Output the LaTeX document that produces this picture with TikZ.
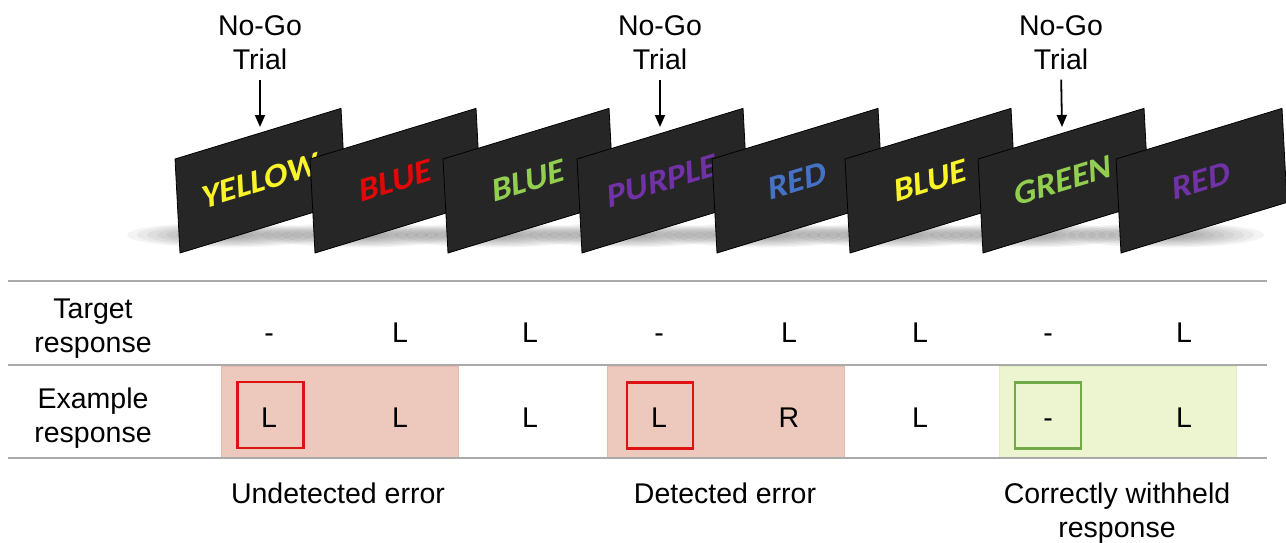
\documentclass[tikz,border=0pt]{standalone}
\usepackage{fontspec}
\setmainfont{Liberation Sans}
\newfontfamily\cardfont{Carlito}
\usetikzlibrary{arrows.meta}
\definecolor{cardbg}{RGB}{38,38,38}
\definecolor{cyel}{RGB}{248,244,40}
\definecolor{cred}{RGB}{226,8,8}
\definecolor{cgrn}{RGB}{146,206,80}
\definecolor{cpur}{RGB}{112,50,166}
\definecolor{cblu}{RGB}{70,114,198}
\definecolor{rulegray}{RGB}{170,170,170}
\definecolor{pinkfill}{RGB}{236,200,189}
\definecolor{pinkedge}{RGB}{228,186,174}
\definecolor{greenfill}{RGB}{236,245,208}
\definecolor{greenedge}{RGB}{226,238,196}
\definecolor{sqred}{RGB}{222,18,18}
\definecolor{sqgreen}{RGB}{112,170,72}
\begin{document}
\begin{tikzpicture}[x=1pt,y=1pt,
  txt/.style={font=\fontsize{28.5}{34}\selectfont, inner sep=0pt, align=center},
  cell/.style={txt, anchor=base},
  word/.style={font=\cardfont\bfseries\fontsize{34}{40}\selectfont, inner sep=0pt, transform shape},
  card/.style={fill=cardbg, draw=black, line width=0.8pt},
  arr/.style={line width=1.8pt, -{Triangle[length=12pt,width=10pt]}, shorten <=10pt},
  rule/.style={draw=rulegray, line width=2.7pt},
  errbox/.style={fill=pinkfill, draw=pinkedge, line width=0.8pt},
  okbox/.style={fill=greenfill, draw=greenedge, line width=0.8pt},
  redsq/.style={draw=sqred, line width=2.2pt, minimum width=66pt, minimum height=66pt, inner sep=0pt},
  grnsq/.style={draw=sqgreen, line width=2.2pt, minimum width=66pt, minimum height=66pt, inner sep=0pt}]
\useasboundingbox (0,0) rectangle (1286,-543);
\fill[white] (0,0) rectangle (1286,-543);

% shadows
\foreach \x in {175,310,443,577,712,845,978,1116}{
  \foreach \k in {1,...,10}{
    \fill[black, opacity=0.045] (\x+50,-235) ellipse [x radius=9.8pt*\k, y radius=1.25pt*\k];
  }
}

% cards
\foreach \x/\w/\c [count=\i] in {175/YELLOW/cyel, 310/BLUE/cred, 443/BLUE/cgrn, 577/PURPLE/cpur, 712/RED/cblu, 845/BLUE/cyel, 978/GREEN/cgrn, 1116/RED/cpur}{
  \begin{scope}[shift={(\x+5,-253)}, cm={1,0.305,-0.053,1,(0,0)}]
    \path[card] (0,0) rectangle (166,94);
    \node[word, text=\c] (w\i) at (83,47) {\w};
  \end{scope}
}

% No-Go labels and arrows
\node[txt, anchor=north] (ng1) at (260,-15) {No-Go\\Trial};
\node[txt, anchor=north] (ng2) at (660,-15) {No-Go\\Trial};
\node[txt, anchor=north] (ng3) at (1061,-15) {No-Go\\Trial};
\coordinate (t1) at (260,-127);
\coordinate (t2) at (660,-127);
\coordinate (t3) at (1062,-127);
\draw[arr] (ng1.south) -- (t1);
\draw[arr] (ng2.south) -- (t2);
\draw[arr] (ng3.south) -- (t3);

% highlighted boxes
\path[errbox] (221,-366) rectangle (458,-457);
\path[errbox] (607,-366) rectangle (844,-457);
\path[okbox] (999,-366) rectangle (1236,-457);

% rules
\draw[rule] (8,-281) -- (1267,-281);
\draw[rule] (8,-365) -- (1267,-365);
\draw[rule] (8,-458) -- (1267,-458);

% row labels
\node[txt, anchor=north] (lt) at (93,-299) {Target\\response};
\node[txt, anchor=north] (le) at (93,-388) {Example\\response};

% target row
\foreach \x/\s [count=\i] in {269/-, 400/L, 530/L, 659/-, 789/L, 920/L, 1048/-, 1184/L}{
  \node[cell] (tr\i) at (\x,-342) {\s};
}
% example row
\foreach \x/\s [count=\i] in {269/L, 400/L, 530/L, 659/L, 789/R, 920/L, 1048/-, 1184/L}{
  \node[cell] (er\i) at (\x,-427) {\s};
}

% squares
\node[redsq] (sq1) at (270.5,-415) {};
\node[redsq] (sq2) at (660,-415.5) {};
\node[grnsq] (sq3) at (1048,-415.5) {};

% captions
\node[txt, anchor=north] (c1) at (338,-483) {Undetected error};
\node[txt, anchor=north] (c2) at (725,-483) {Detected error};
\node[txt, anchor=north] (c3) at (1117,-483) {Correctly withheld\\response};
\end{tikzpicture}
\end{document}
